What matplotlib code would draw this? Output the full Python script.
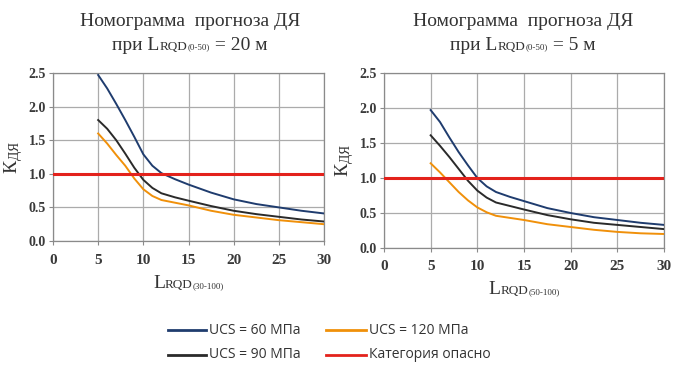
import matplotlib
matplotlib.use("Agg")
import matplotlib.pyplot as plt
from matplotlib.lines import Line2D
from matplotlib.offsetbox import TextArea, HPacker, AnchoredOffsetbox
from matplotlib.transforms import Bbox

SERIF = "Liberation Serif"
plt.rcParams['font.family'] = [SERIF, 'DejaVu Serif']
plt.rcParams['mathtext.fontset'] = 'custom'
plt.rcParams['mathtext.rm'] = SERIF
plt.rcParams['mathtext.it'] = SERIF

x_vals = [5, 6, 7, 8, 9, 10, 11, 12, 13.5, 15, 17.5, 20, 22.5, 25, 27.5, 30]

left_ucs60 = [2.47, 2.27, 2.04, 1.80, 1.55, 1.29, 1.12, 1.01, 0.92, 0.84, 0.72, 0.62, 0.55, 0.50, 0.45, 0.41]
left_ucs90 = [1.80, 1.67, 1.50, 1.30, 1.09, 0.91, 0.79, 0.71, 0.65, 0.60, 0.52, 0.45, 0.40, 0.36, 0.32, 0.29]
left_ucs120 = [1.60, 1.45, 1.28, 1.12, 0.93, 0.77, 0.67, 0.61, 0.57, 0.53, 0.45, 0.39, 0.35, 0.31, 0.28, 0.25]

right_ucs60 = [1.97, 1.80, 1.58, 1.37, 1.18, 1.00, 0.88, 0.80, 0.73, 0.67, 0.57, 0.50, 0.44, 0.40, 0.36, 0.33]
right_ucs90 = [1.61, 1.46, 1.30, 1.13, 0.96, 0.82, 0.72, 0.65, 0.60, 0.55, 0.47, 0.41, 0.36, 0.33, 0.30, 0.27]
right_ucs120 = [1.21, 1.08, 0.94, 0.80, 0.68, 0.58, 0.51, 0.46, 0.43, 0.40, 0.34, 0.30, 0.26, 0.23, 0.21, 0.20]

hazard_level = 1.0
x_ticks = [0, 5, 10, 15, 20, 25, 30]
x_tick_labels = ["0", "5", "10", "15", "20", "25", "30"]
y_ticks = [0.0, 0.5, 1.0, 1.5, 2.0, 2.5]
y_tick_labels = ["0.0", "0.5", "1.0", "1.5", "2.0", "2.5"]

legend_labels = ["UCS = 60 МПа", "UCS = 120 МПа", "UCS = 90 МПа", "Категория опасности"]
title_line1 = "Номограмма  прогноза ДЯ"

C_BLUE = "#1f3c6e"
C_BLACK = "#2a2a2a"
C_ORANGE = "#f0900a"
C_RED = "#e3221c"
TXT = "#333333"

W, H = 674, 374
fig = plt.figure(figsize=(W / 100, H / 100), dpi=100)

def px_axes(x0, x1, ytop, ybot):
    return [x0 / W, 1 - ybot / H, (x1 - x0) / W, (ybot - ytop) / H]

def setup(ax, s60, s90, s120, xlab_suffix, title_suffix, title_cx, xlab_y):
    ax.plot(x_vals, s60, color=C_BLUE, lw=1.4, zorder=3)
    ax.plot(x_vals, s90, color=C_BLACK, lw=1.4, zorder=3)
    ax.plot(x_vals, s120, color=C_ORANGE, lw=1.4, zorder=3)
    ax.axhline(hazard_level, color=C_RED, lw=2.2, zorder=4)
    ax.set_xlim(0, 30)
    ax.set_ylim(0, 2.5)
    ax.set_xticks(x_ticks)
    ax.set_xticklabels(x_tick_labels, fontfamily=SERIF, fontweight="bold", fontsize=11, color="#3a3a3a")
    ax.set_yticks(y_ticks)
    ax.set_yticklabels(y_tick_labels, fontfamily=SERIF, fontweight="bold", fontsize=10, color="#3a3a3a")
    ax.grid(True, color="#ababab", lw=0.9)
    ax.set_axisbelow(True)
    for s in ax.spines.values():
        s.set_color("#8a8a8a")
        s.set_linewidth(0.9)
    ax.tick_params(axis="both", length=3, width=0.8, color="#8a8a8a")
    ax.tick_params(axis="x", pad=6)
    ax.tick_params(axis="y", pad=2)
    ax.set_ylabel(r"$\mathrm{К}_{\mathrm{ДЯ}}$", fontsize=14, color=TXT, labelpad=3)
    parts = [TextArea("L", textprops=dict(fontsize=14, family=SERIF, color=TXT)),
             TextArea("RQD", textprops=dict(fontsize=9.5, family=SERIF, color=TXT)),
             TextArea(xlab_suffix, textprops=dict(fontsize=6.5, family=SERIF, color=TXT))]
    box = HPacker(children=parts, align="baseline", pad=0, sep=0)
    ab = AnchoredOffsetbox(loc="center", child=box, frameon=False,
                           bbox_to_anchor=(ax.get_position().x0 + ax.get_position().width / 2, 1 - xlab_y / H),
                           bbox_transform=fig.transFigure, borderpad=0, pad=0)
    fig.add_artist(ab)
    fig.text(title_cx / W, 1 - 22 / H, title_line1, ha="center", va="center",
             fontsize=14, family=SERIF, color=TXT)
    tparts = [TextArea("при L", textprops=dict(fontsize=14, family=SERIF, color=TXT)),
              TextArea("RQD", textprops=dict(fontsize=9.5, family=SERIF, color=TXT)),
              TextArea("(0-50)", textprops=dict(fontsize=6.5, family=SERIF, color=TXT)),
              TextArea(" = " + title_suffix, textprops=dict(fontsize=14, family=SERIF, color=TXT))]
    tbox = HPacker(children=tparts, align="baseline", pad=0, sep=0)
    tab = AnchoredOffsetbox(loc="center", child=tbox, frameon=False,
                            bbox_to_anchor=(title_cx / W, 1 - 45 / H), bbox_transform=fig.transFigure,
                            borderpad=0, pad=0)
    fig.add_artist(tab)

ax1 = fig.add_axes(px_axes(53, 324, 73, 241))
setup(ax1, left_ucs60, left_ucs90, left_ucs120, "(30-100)", "20 м", 190, 284)
ax2 = fig.add_axes(px_axes(384, 664, 73, 248))
setup(ax2, right_ucs60, right_ucs90, right_ucs120, "(50-100)", "5 м", 523, 290)

rows = [330, 355]
cols = [(168, 206), (326, 366)]
colors = [C_BLUE, C_ORANGE, C_BLACK, C_RED]
for i, (lab, col) in enumerate(zip(legend_labels, colors)):
    r = rows[i // 2]
    c = cols[i % 2]
    y = 1 - r / H
    fig.add_artist(Line2D([c[0] / W, c[1] / W], [y, y], transform=fig.transFigure,
                          color=col, lw=2.0))
    t = fig.text((c[1] + 3) / W, y, lab, ha="left", va="center", fontsize=10,
                 family="Open Sans", color=TXT)
    if i == 3:
        t.set_clip_on(True)
        t.set_clip_box(Bbox.from_extents(0, 0, 490, H))

fig.savefig("out.png", dpi=100)
